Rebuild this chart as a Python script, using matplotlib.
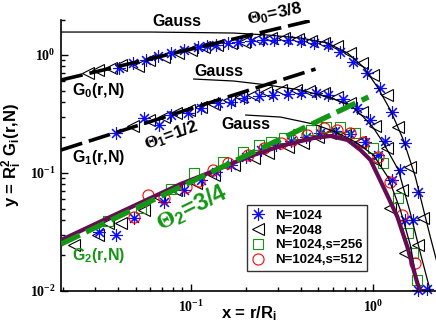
import numpy as np
import matplotlib
matplotlib.use('Agg')
import matplotlib.pyplot as plt
from matplotlib.ticker import LogLocator, FuncFormatter, NullFormatter
from matplotlib.lines import Line2D

plt.rcParams['font.family'] = ['Liberation Sans', 'DejaVu Sans']
plt.rcParams['font.weight'] = 'bold'
plt.rcParams['mathtext.fontset'] = 'custom'
plt.rcParams['mathtext.rm'] = 'Liberation Sans:bold'
plt.rcParams['mathtext.it'] = 'Liberation Sans:bold'
plt.rcParams['mathtext.bf'] = 'Liberation Sans:bold'
plt.rcParams['mathtext.sf'] = 'Liberation Serif'
plt.rcParams['lines.scale_dashes'] = False

# ---------------- data ----------------
# G0, N=1024 (stars) and N=2048 (triangles)
g0_n1024_x = [0.0405, 0.0482, 0.0568, 0.0660, 0.0778, 0.0916, 0.1092, 0.1223, 0.1371, 0.1592,
              0.1807, 0.2128, 0.2474, 0.2842, 0.3388, 0.3991, 0.4700, 0.5606, 0.6600, 0.7776,
              0.9272, 1.092, 1.270, 1.496, 1.762]
g0_n1024_y = [0.776, 0.855, 0.907, 0.981, 1.040, 1.102, 1.169, 1.192, 1.215, 1.264,
              1.289, 1.314, 1.340, 1.340, 1.340, 1.314, 1.264, 1.215, 1.060, 0.873,
              0.704, 0.525, 0.329, 0.1796, 0.0687]
g0_n2048_x = [0.0274, 0.0310, 0.0365, 0.0414, 0.0513, 0.0589, 0.0712, 0.0849, 0.1000, 0.1178,
              0.1387, 0.1655, 0.1950, 0.2323, 0.2735, 0.3223, 0.3843, 0.4528, 0.5330, 0.6355,
              0.7486, 0.8710, 1.000, 1.193, 1.370, 1.592, 1.875]
g0_n2048_y = [0.704, 0.746, 0.776, 0.823, 0.807, 0.907, 0.962, 1.040, 1.102, 1.169,
              1.215, 1.264, 1.289, 1.367, 1.393, 1.393, 1.367, 1.314, 1.264, 1.192,
              1.040, 0.855, 0.677, 0.458, 0.245, 0.1125, 0.0416]

# G1
g1_n1024_x = [0.0389, 0.0553, 0.0668, 0.0778, 0.0964, 0.1134, 0.1406, 0.1655, 0.1950, 0.2353,
              0.2806, 0.3388, 0.3991, 0.4819, 0.5675, 0.6853, 0.8177, 0.9630, 1.163, 1.405,
              1.655, 1.972]
g1_n1024_y = [0.218, 0.292, 0.255, 0.310, 0.323, 0.356, 0.392, 0.400, 0.432, 0.449,
              0.458, 0.467, 0.476, 0.476, 0.458, 0.424, 0.356, 0.281, 0.187, 0.106,
              0.0400, 0.0104]
g1_n2048_x = [0.0482, 0.0589, 0.0712, 0.0828, 0.0975, 0.1134, 0.1336, 0.1614, 0.1876, 0.2183,
              0.2570, 0.3102, 0.3748, 0.4416, 0.5330, 0.6355, 0.7486, 0.8710, 1.026, 1.193,
              1.440, 1.762]
g1_n2048_y = [0.250, 0.281, 0.298, 0.323, 0.342, 0.362, 0.384, 0.416, 0.441, 0.458,
              0.486, 0.505, 0.505, 0.495, 0.476, 0.441, 0.392, 0.329, 0.250, 0.163,
              0.0718, 0.0245]

# G2
g2_n1024_x = [0.0314, 0.0389, 0.0489, 0.0712, 0.0916, 0.1134, 0.1371, 0.1655, 0.2000, 0.2415,
              0.2914, 0.3517, 0.4250, 0.5129, 0.6197, 0.7486, 0.9042, 1.065, 1.270, 1.496, 1.762]
g2_n1024_y = [0.0316, 0.0299, 0.0416, 0.0568, 0.0718, 0.0873, 0.1019, 0.117, 0.1367, 0.1567,
              0.1727, 0.187, 0.202, 0.218, 0.227, 0.214, 0.183, 0.142, 0.0873, 0.0400, 0.0102]
g2_n2048_x = [0.0230, 0.0310, 0.0352, 0.0414, 0.0553, 0.0668, 0.0828, 0.1065, 0.1336, 0.1718,
              0.2210, 0.2636, 0.3388, 0.4142, 0.4943, 0.5821, 0.7028, 0.8490, 1.026, 1.238, 1.496]
g2_n2048_y = [0.0245, 0.0299, 0.0377, 0.0377, 0.0485, 0.0626, 0.0718, 0.0822, 0.0962, 0.117,
              0.134, 0.1477, 0.166, 0.1796, 0.202, 0.218, 0.210, 0.183, 0.1289, 0.0505, 0.0210]
g2_s256_x = [0.0352, 0.0533, 0.0778, 0.1038, 0.1496, 0.1923, 0.2353, 0.2735, 0.3223, 0.3843,
             0.4528, 0.5467, 0.6600, 0.7973, 1.000, 1.134, 1.370, 1.553, 1.655, 1.738]
g2_s256_y = [0.0392, 0.0505, 0.0732, 0.1000, 0.124, 0.1507, 0.1727, 0.183, 0.198, 0.214,
             0.231, 0.245, 0.245, 0.218, 0.163, 0.1216, 0.0614, 0.0310, 0.0210, 0.0124]
g2_s512_x = [0.0489, 0.0582, 0.0712, 0.0940, 0.1106, 0.1318, 0.1592, 0.2049, 0.2506, 0.3102,
             0.3606, 0.4356, 0.5330, 0.6355, 0.7486, 0.8818, 1.065, 1.238, 1.440, 1.697]
g2_s512_y = [0.0424, 0.0651, 0.0614, 0.0761, 0.0855, 0.106, 0.1216, 0.142, 0.163, 0.1796,
             0.1905, 0.210, 0.241, 0.231, 0.218, 0.183, 0.1367, 0.0839, 0.0441, 0.0173]

# Gaussian curves
gauss0_x = [0.0195, 0.0604, 0.1718, 0.2636, 0.3991, 0.5606, 0.7213, 0.8818, 1.052, 1.238,
            1.459, 1.697, 1.923, 2.048, 2.323]
gauss0_y = [1.566, 1.566, 1.536, 1.477, 1.393, 1.264, 1.040, 0.791, 0.535, 0.342,
            0.1905, 0.0925, 0.0424, 0.0287, 0.0137]
gauss1_x = [0.1038, 0.1718, 0.2636, 0.3991, 0.5606, 0.7486, 0.8818, 1.000, 1.134, 1.370,
            1.592, 1.806, 2.048]
gauss1_y = [0.626, 0.602, 0.557, 0.505, 0.441, 0.377, 0.298, 0.241, 0.1796, 0.106,
            0.0458, 0.0210, 0.0100]
gauss2_x = [0.2000, 0.3102, 0.4700, 0.6197, 0.7973, 1.000, 1.208, 1.405, 1.592, 1.762]
gauss2_y = [0.310, 0.298, 0.260, 0.223, 0.183, 0.142, 0.0907, 0.0485, 0.0245, 0.0102]

# full G2 curve (purple)
full2_x = [0.0195, 0.0414, 0.0881, 0.1336, 0.2049, 0.3102, 0.4700, 0.5821, 0.7213, 0.8490,
           0.9630, 1.134, 1.353, 1.534, 1.738, 1.806]
full2_y = [0.0270, 0.0467, 0.0807, 0.104, 0.1367, 0.1694, 0.198, 0.206, 0.1905, 0.1567,
           0.1289, 0.0761, 0.0424, 0.0236, 0.0117, 0.0100]

# power laws
theta0_x = [0.0195, 0.470]
theta0_y = [0.614, 1.98]
theta1_x = [0.0195, 0.482]
theta1_y = [0.1567, 0.761]
theta2_x = [0.0195, 0.939]
theta2_y = [0.025, 0.441]

legend_labels = ['N=1024', 'N=2048', 'N=1024,s=256', 'N=1024,s=512']

# ---------------- styles ----------------
BLUE = '#0a0aff'
GREEN = '#139613'
RED = '#ff0000'
PURPLE = '#650d52'
star = (8, 2, 0)

fig = plt.figure(figsize=(4.36, 3.26), dpi=100)
ax = fig.add_axes([61 / 436, 35 / 326, 375 / 436, 271.5 / 326])
ax.set_xscale('log')
ax.set_yscale('log')
ax.set_xlim(0.0195, 2.2)
ax.set_ylim(0.01, 2.0)

mk_star = dict(marker=star, ms=9, mec=BLUE, mew=0.8, ls='none', clip_on=False, zorder=2)
mk_tri = dict(marker='<', ms=8, mfc='none', mec='black', mew=0.8, ls='none', clip_on=False, zorder=2)
mk_sq = dict(marker='s', ms=7, mfc='none', mec=GREEN, mew=0.8, ls='none', clip_on=False, zorder=2)
mk_ci = dict(marker='o', ms=8, mfc='none', mec=RED, mew=0.8, ls='none', clip_on=False, zorder=2)

ax.plot(g0_n2048_x, g0_n2048_y, **mk_tri)
ax.plot(g0_n1024_x, g0_n1024_y, **mk_star)
ax.plot(g1_n2048_x, g1_n2048_y, **mk_tri)
ax.plot(g1_n1024_x, g1_n1024_y, **mk_star)
ax.plot(g2_n2048_x, g2_n2048_y, **mk_tri)
ax.plot(g2_n1024_x, g2_n1024_y, **mk_star)
ax.plot(g2_s256_x, g2_s256_y, **mk_sq)
ax.plot(g2_s512_x, g2_s512_y, **mk_ci)

# lines
ax.plot(gauss0_x, gauss0_y, color='black', lw=0.9, zorder=3)
ax.plot(gauss1_x, gauss1_y, color='black', lw=0.9, zorder=3)
ax.plot(gauss2_x, gauss2_y, color='black', lw=0.9, zorder=3)
ax.plot(full2_x, full2_y, color=PURPLE, lw=3.0, zorder=4, solid_capstyle='butt')
ax.plot(theta0_x, theta0_y, color='black', lw=2.6, dashes=(16, 5), zorder=4)
ax.plot(theta1_x, theta1_y, color='black', lw=2.6, dashes=(16, 5), zorder=4)
ax.plot(theta2_x, theta2_y, color=GREEN, lw=3.8, dashes=(15, 5), zorder=4)

# axes style
for s in ['top', 'right']:
    ax.spines[s].set_visible(False)
for s in ['left', 'bottom']:
    ax.spines[s].set_linewidth(1.2)
ax.xaxis.set_major_locator(LogLocator(base=10, numticks=10))
ax.yaxis.set_major_locator(LogLocator(base=10, numticks=10))
ax.xaxis.set_minor_locator(LogLocator(base=10, subs=np.arange(2, 10), numticks=20))
ax.yaxis.set_minor_locator(LogLocator(base=10, subs=np.arange(2, 10), numticks=20))
fmt = FuncFormatter(lambda v, p: r'$\mathsf{10^{%d}}$' % int(round(np.log10(v))))
ax.xaxis.set_major_formatter(fmt)
ax.yaxis.set_major_formatter(fmt)
ax.xaxis.set_minor_formatter(NullFormatter())
ax.yaxis.set_minor_formatter(NullFormatter())
ax.tick_params(which='both', direction='in', top=False, right=False, width=1.0)
ax.tick_params(which='major', length=5, labelsize=10, pad=4)
ax.tick_params(axis='x', which='major', pad=6)
ax.tick_params(which='minor', length=3)

ax.set_xlabel(r'x = r/R$_i$', fontsize=12, fontweight='bold')
ax.xaxis.set_label_coords(0.5, -0.048)
ax.set_ylabel(r'y = R$_i^2$ G$_i$(r,N)', fontsize=12, fontweight='bold', labelpad=4)

# annotations
T = ax.transAxes
ax.text(0.309, 0.993, 'Gauss', transform=T, ha='center', va='center', fontsize=11.5, zorder=6)
ax.text(0.421, 0.810, 'Gauss', transform=T, ha='center', va='center', fontsize=11.5, zorder=6)
ax.text(0.493, 0.615, 'Gauss', transform=T, ha='center', va='center', fontsize=11.5, zorder=6)
ax.text(0.029, 0.737, r'G$_0$(r,N)', transform=T, ha='left', va='center', fontsize=11.5, zorder=6)
ax.text(0.029, 0.490, r'G$_1$(r,N)', transform=T, ha='left', va='center', fontsize=11.5, zorder=6)
ax.text(0.029, 0.129, r'G$_2$(r,N)', transform=T, ha='left', va='center', fontsize=11.5,
        color=GREEN, zorder=6)
ax.text(0.571, 1.020, r'$\mathsf{\Theta}_0$=3/8', transform=T, ha='center', va='center',
        fontsize=12.5, rotation=12, zorder=6, clip_on=False)
ax.text(0.293, 0.572, r'$\mathsf{\Theta}_1$=1/2', transform=T, ha='center', va='center',
        fontsize=12.5, rotation=20, zorder=6)
ax.text(0.349, 0.309, r'$\mathsf{\Theta}_2$=3/4', transform=T, ha='center', va='center',
        fontsize=17, rotation=26, color=GREEN, zorder=6)

handles = [Line2D([], [], **{k: v for k, v in mk_star.items() if k != 'clip_on'}),
           Line2D([], [], **{k: v for k, v in mk_tri.items() if k != 'clip_on'}),
           Line2D([], [], **{k: v for k, v in mk_sq.items() if k != 'clip_on'}),
           Line2D([], [], **{k: v for k, v in mk_ci.items() if k != 'clip_on'})]
leg = ax.legend(handles, legend_labels, loc='lower left', bbox_to_anchor=(0.496, 0.074),
                borderaxespad=0, frameon=True, fancybox=False, edgecolor='#333333',
                framealpha=1, numpoints=1, handlelength=1.0, handletextpad=0.8,
                labelspacing=0.2, borderpad=0.35, prop={'weight': 'bold', 'size': 9.5})
leg.get_frame().set_linewidth(1.0)
leg.set_zorder(7)

fig.savefig('out.png', dpi=100)
